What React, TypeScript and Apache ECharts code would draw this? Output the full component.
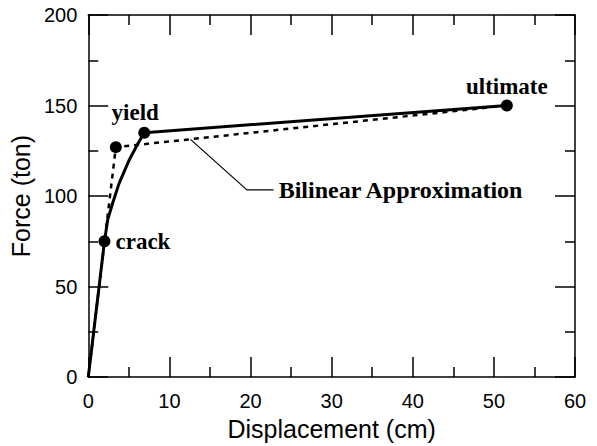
import React, { useEffect, useRef } from "react";
import * as echarts from "echarts";

// Capacity curve (solid)
const curveX = [0, 2, 2.4, 3.0, 3.8, 5.0, 6.0, 6.9, 51.6];
const curveY = [0, 75, 87, 96, 107, 119.5, 128, 135, 150];

// Bilinear approximation (dotted)
const bilinearX = [0, 3.4, 51.6];
const bilinearY = [0, 127, 150];

// Key points
const pointNames = ["crack", "yield", "bilinear", "ultimate"];
const pointX = [2, 6.9, 3.4, 51.6];
const pointY = [75, 135, 127, 150];

// Annotation leader line
const leaderX = [12.6, 19.55, 22.85];
const leaderY = [131.3, 103.4, 103.4];
const leaderText = "Bilinear Approximation";

const xTicks = { min: 0, max: 60, interval: 10 };
const yTicks = { min: 0, max: 200, interval: 50 };

const zip = (xs: number[], ys: number[]) => xs.map((x, i) => [x, ys[i]]);

const SANS = "Liberation Sans, Arial, sans-serif";
const SERIF = "Liberation Serif, Times New Roman, serif";

export default function App() {
  const ref = useRef<HTMLDivElement>(null);
  useEffect(() => {
    document.body.style.margin = "0";
    if (!ref.current) return;
    const chart = echarts.init(ref.current, undefined, { renderer: "svg" });
    const lineStyle = { color: "#000", width: 1.5 };
    const axisCommon = (show: boolean) => ({
      type: "value" as const,
      axisLine: { show: true, onZero: false, lineStyle },
      axisTick: { show: true, inside: true, length: 20, lineStyle },
      minorTick: { show: true, splitNumber: 2, length: 10, lineStyle },
      splitLine: { show: false },
      minorSplitLine: { show: false },
      axisLabel: { show, color: "#000", fontSize: 20, fontFamily: SANS },
    });
    const labelStyle = { color: "#000", fontSize: 23, fontWeight: "bold" as const, fontFamily: SERIF, opacity: 1 };
    const pointLabels: Record<string, any> = {
      crack: { show: true, formatter: "crack", position: "right", distance: 5, ...labelStyle },
      yield: { show: true, formatter: "yield", position: "top", distance: 3, offset: [-9, 0], ...labelStyle },
      bilinear: { show: false },
      ultimate: { show: true, formatter: "ultimate", position: "top", distance: 2, ...labelStyle },
    };
    chart.setOption({
      animation: false,
      backgroundColor: "#fff",
      grid: { left: 85, right: 22, top: 15, bottom: 63, containLabel: false },
      xAxis: [
        {
          ...axisCommon(true),
          ...xTicks,
          position: "bottom",
          axisLabel: { show: true, color: "#000", fontSize: 20, fontFamily: SANS, margin: 14 },
          name: "Displacement (cm)",
          nameLocation: "middle",
          nameGap: 36,
          nameTextStyle: { color: "#000", fontSize: 25, fontFamily: SANS },
        },
        { ...axisCommon(false), ...xTicks, position: "top" },
      ],
      yAxis: [
        {
          ...axisCommon(true),
          ...yTicks,
          position: "left",
          axisLabel: { show: true, color: "#000", fontSize: 20, fontFamily: SANS, margin: 11 },
          name: "Force (ton)",
          nameLocation: "middle",
          nameGap: 50,
          nameTextStyle: { color: "#000", fontSize: 25, fontFamily: SANS },
        },
        { ...axisCommon(false), ...yTicks, position: "right" },
      ],
      series: [
        {
          type: "line",
          data: zip(curveX, curveY),
          symbol: "none",
          lineStyle: { color: "#000", width: 3 },
          z: 3,
        },
        {
          type: "line",
          data: zip(bilinearX, bilinearY),
          symbol: "none",
          lineStyle: { color: "#000", width: 2.5, type: [5, 5] },
          z: 2,
        },
        {
          type: "line",
          data: zip(leaderX, leaderY),
          symbol: "none",
          lineStyle: { color: "#000", width: 1.2 },
          endLabel: {
            show: true,
            formatter: leaderText,
            distance: 5,
            color: "#000",
            fontSize: 24,
            fontWeight: "bold",
            fontFamily: SERIF,
          },
          z: 2,
        },
        {
          type: "scatter",
          symbol: "circle",
          symbolSize: 12,
          itemStyle: { color: "#000", opacity: 1 },
          data: pointNames.map((n, i) => ({
            value: [pointX[i], pointY[i]],
            label: pointLabels[n],
          })),
          z: 4,
        },
      ],
    });
    return () => chart.dispose();
  }, []);
  return <div ref={ref} style={{ width: 597, height: 446 }} />;
}
